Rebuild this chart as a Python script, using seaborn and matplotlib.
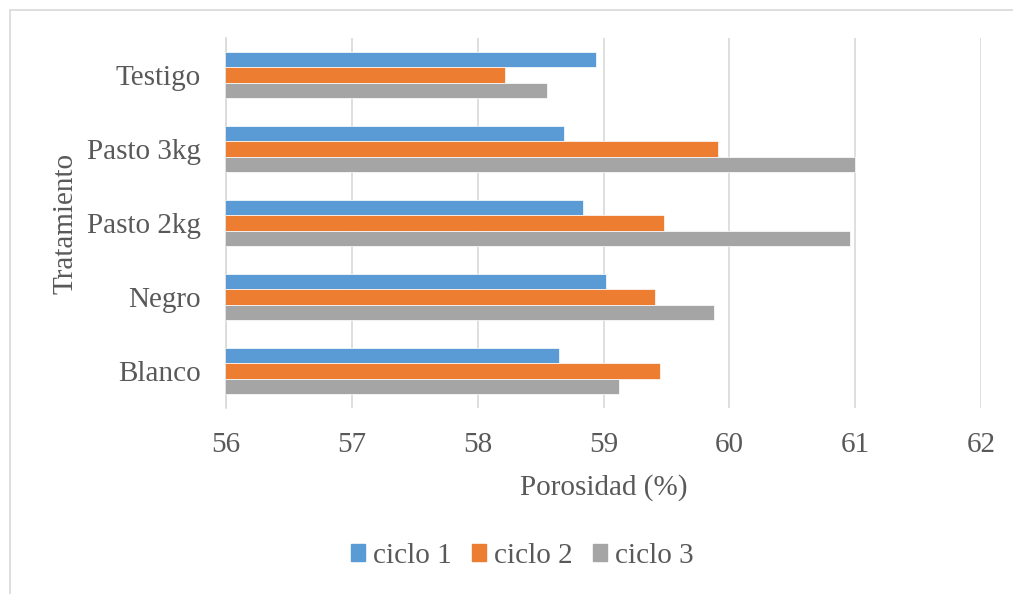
import matplotlib
matplotlib.use("Agg")
import matplotlib.pyplot as plt
from matplotlib.patches import Rectangle
import seaborn as sns
import pandas as pd

# Porosity (%) per treatment and cycle
tratamientos = ["Testigo", "Pasto 3kg", "Pasto 2kg", "Negro", "Blanco"]
ciclos = ["ciclo 1", "ciclo 2", "ciclo 3"]
ciclo_1 = [58.94, 58.69, 58.84, 59.02, 58.65]
ciclo_2 = [58.22, 59.91, 59.48, 59.41, 59.45]
ciclo_3 = [58.55, 61.00, 60.96, 59.88, 59.12]
x_ticks = [56, 57, 58, 59, 60, 61, 62]

colores = ["#5B9BD5", "#ED7D31", "#A5A5A5"]
texto = "#595959"
rejilla = "#D9D9D9"
fs = 21

df = pd.DataFrame({
    "Tratamiento": tratamientos * 3,
    "Ciclo": [c for c in ciclos for _ in tratamientos],
    "Porosidad": ciclo_1 + ciclo_2 + ciclo_3,
})

sns.set_theme(style="white")
plt.rcParams["font.family"] = ["Liberation Serif", "DejaVu Serif"]

fig = plt.figure(figsize=(10.13, 5.94), dpi=100)
ax = fig.add_axes([226 / 1013, 1 - 408 / 594, (981 - 226) / 1013, (408 - 38) / 594])

sns.barplot(
    data=df, y="Tratamiento", x="Porosidad", hue="Ciclo",
    order=tratamientos, hue_order=ciclos, palette=colores, saturation=1,
    orient="h", width=0.62, gap=0, edgecolor="white", linewidth=0.5,
    errorbar=None, ax=ax, zorder=3,
)

ax.set_xlim(56, 62)
ax.set_xticks(x_ticks)
ax.set_xticklabels([str(t) for t in x_ticks])
ax.grid(axis="x", color=rejilla, linewidth=1.2, zorder=0)
ax.set_axisbelow(True)
for s in ["top", "right", "bottom"]:
    ax.spines[s].set_visible(False)
ax.spines["left"].set_color(rejilla)
ax.spines["left"].set_linewidth(1.2)

ax.tick_params(axis="both", length=0, colors=texto, labelsize=fs)
ax.tick_params(axis="x", pad=17)
ax.tick_params(axis="y", pad=18)
ax.set_xlabel("Porosidad (%)", fontsize=fs, color=texto, labelpad=12)
ax.set_ylabel("Tratamiento", fontsize=fs, color=texto, labelpad=6)

ax.legend_.remove()
handles = [Rectangle((0, 0), 1, 1, color=c) for c in colores]
fig.legend(
    handles, ciclos, loc="center", bbox_to_anchor=(522 / 1013, 1 - 556 / 594),
    ncol=3, frameon=False, fontsize=fs, labelcolor=texto,
    handlelength=0.5, handleheight=0.55, handletextpad=0.25, columnspacing=0.7,
)

# light chart-area border
fig.patches.append(Rectangle((10 / 1013, -0.05), 1.2, 1 - 10 / 594 + 0.05,
                             transform=fig.transFigure, fill=False,
                             edgecolor=rejilla, linewidth=1.2))

fig.savefig("out.png", dpi=100)
